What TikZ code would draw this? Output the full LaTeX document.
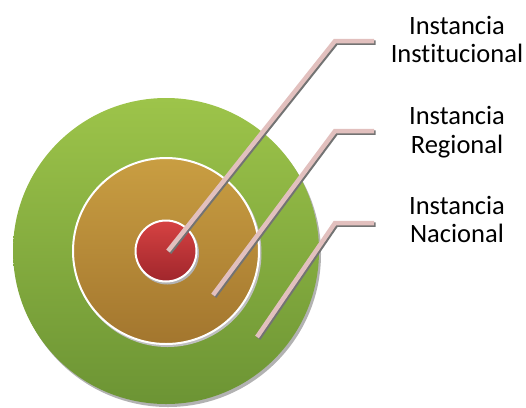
\documentclass[tikz,border=0pt]{standalone}
\usepackage{fontspec}
\setmainfont{Carlito}[Ligatures={NoCommon}]
\begin{document}
\begin{tikzpicture}[x=1pt,y=1pt]
\definecolor{gtop}{RGB}{157,196,74}
\definecolor{gbot}{RGB}{108,148,52}
\definecolor{otop}{RGB}{201,158,66}
\definecolor{obot}{RGB}{163,118,46}
\definecolor{rtop}{RGB}{214,66,66}
\definecolor{rbot}{RGB}{160,38,44}
\definecolor{pinkline}{RGB}{226,192,190}
\tikzset{
  lbl/.style={align=center, font=\fontsize{26.5}{28.5}\selectfont, inner sep=0pt},
  conn/.style={line width=4.5pt, draw=pinkline, line join=miter},
  connshadow/.style={line width=4.5pt, draw=black!55, line join=miter},
  ring/.style={draw=white, line width=2pt}
}
\useasboundingbox (0,0) rectangle (526,-407);
\coordinate (c) at (166,-251);
% outer circle
\fill[black!30] ([shift={(2,-3)}]c) circle (153);
\shade[top color=gtop, bottom color=gbot] (c) circle (153);
% middle circle
\fill[black!25] ([shift={(1.5,-2)}]c) circle (94);
\shade[top color=otop, bottom color=obot] (c) circle (93);
\draw[ring] (c) circle (93);
% inner circle
\fill[black!30] ([shift={(1.5,-2)}]c) circle (31.5);
\shade[top color=rtop, bottom color=rbot] (c) circle (30.5);
\draw[ring] (c) circle (30.5);
% labels
\node[lbl] (l1) at (457,-39.5) {Instancia\\Institucional};
\node[lbl] (l2) at (457,-132) {Instancia\\Regional};
\node[lbl] (l3) at (457,-219.5) {Instancia\\Nacional};
% connector points
\coordinate (s1) at (168,-251);
\coordinate (e1) at (335,-41);
\coordinate (t1) at (374,-41);
\coordinate (s2) at (213,-295);
\coordinate (e2) at (335,-131);
\coordinate (t2) at (374,-131);
\coordinate (s3) at (257,-337);
\coordinate (e3) at (335,-223);
\coordinate (t3) at (374,-223);
\foreach \s/\e/\t in {s1/e1/t1, s2/e2/t2, s3/e3/t3}{
  \draw[connshadow] ([shift={(1.5,-1.5)}]\s) -- ([shift={(1.5,-1.5)}]\e) -- ([shift={(1.5,-1.5)}]\t);
  \draw[conn] (\s) -- (\e) -- (\t);
}
\end{tikzpicture}
\end{document}
